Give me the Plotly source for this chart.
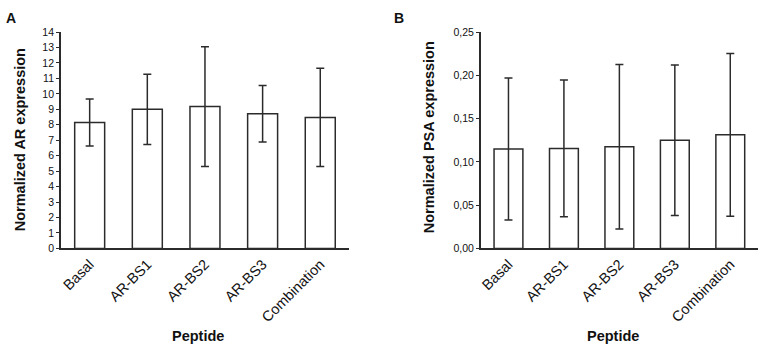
import plotly.graph_objects as go

categories = ["Basal", "AR-BS1", "AR-BS2", "AR-BS3", "Combination"]
ar_values = [8.15, 9.0, 9.18, 8.72, 8.48]
ar_errors = [1.52, 2.27, 3.87, 1.83, 3.18]
psa_values = [0.115, 0.1155, 0.1175, 0.125, 0.1313]
psa_errors = [0.082, 0.079, 0.095, 0.087, 0.094]

W, H = 762, 352
line_col = "#2b2b2b"
font_fam = "Liberation Sans, Arial, Helvetica, sans-serif"

def px_x(x):
    return x / W

def px_y(y):
    return 1 - y / H

fig = go.Figure()
fig.add_trace(go.Bar(
    x=categories, y=ar_values, xaxis="x", yaxis="y",
    marker=dict(color="white", line=dict(color=line_col, width=1.5)),
    error_y=dict(type="data", array=ar_errors, visible=True, color=line_col, thickness=1.5, width=4),
    showlegend=False,
))
fig.add_trace(go.Bar(
    x=categories, y=psa_values, xaxis="x2", yaxis="y2",
    marker=dict(color="white", line=dict(color=line_col, width=1.5)),
    error_y=dict(type="data", array=psa_errors, visible=True, color=line_col, thickness=1.5, width=4),
    showlegend=False,
))

ydom = [px_y(251), px_y(27)]
common_x = dict(showline=True, linecolor=line_col, linewidth=1.5, ticks="", tickangle=-45,
                tickfont=dict(size=14.5, color="#111111", family=font_fam), showgrid=False,
                zeroline=False, range=[-0.5, 4.5])
common_y = dict(showline=True, linecolor=line_col, linewidth=1.5, ticks="outside", ticklen=3,
                tickcolor=line_col, tickwidth=1.2, tickfont=dict(size=10.5, color="#111111", family=font_fam),
                showgrid=False, zeroline=False)

fig.update_layout(
    width=W, height=H,
    margin=dict(l=0, r=0, t=0, b=0),
    paper_bgcolor="white", plot_bgcolor="white",
    separators=",.",
    bargap=0.48,
    font=dict(family=font_fam, color="#111"),
    xaxis=dict(domain=[px_x(59), px_x(348)], anchor="y", **common_x),
    yaxis=dict(domain=ydom, anchor="x", range=[0, 14], dtick=1, **common_y),
    xaxis2=dict(domain=[px_x(480), px_x(758)], anchor="y2", **common_x),
    yaxis2=dict(domain=ydom, anchor="x2", range=[0, 0.25], dtick=0.05, tickformat=".2f", **common_y),
)

annots = [
    dict(text="<b>A</b>", x=px_x(2), y=px_y(2), xanchor="left", yanchor="top", font=dict(size=14)),
    dict(text="<b>B</b>", x=px_x(391), y=px_y(2), xanchor="left", yanchor="top", font=dict(size=14)),
    dict(text="<b>Normalized AR expression</b>", x=px_x(18), y=px_y(138), textangle=-90,
         xanchor="center", yanchor="middle", font=dict(size=14.5)),
    dict(text="<b>Normalized PSA expression</b>", x=px_x(428), y=px_y(136), textangle=-90,
         xanchor="center", yanchor="middle", font=dict(size=14.5)),
    dict(text="<b>Peptide</b>", x=px_x(197), y=px_y(342), xanchor="center", yanchor="middle",
         font=dict(size=14.5)),
    dict(text="<b>Peptide</b>", x=px_x(613), y=px_y(342), xanchor="center", yanchor="middle",
         font=dict(size=14.5)),
]
for a in annots:
    a.update(xref="paper", yref="paper", showarrow=False)
fig.update_layout(annotations=annots)

fig.write_html("out.html")
